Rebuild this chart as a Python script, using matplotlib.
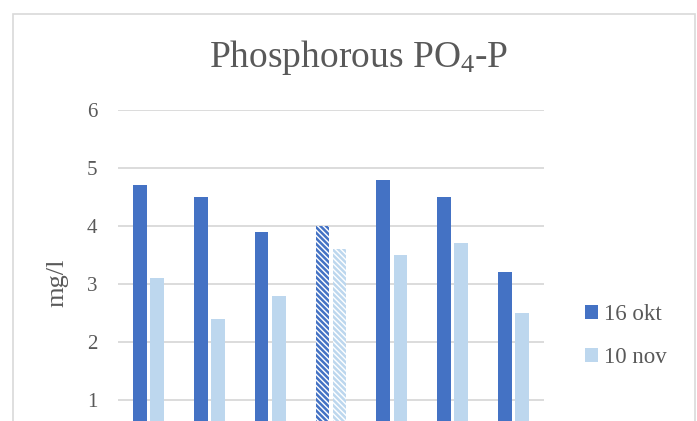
import matplotlib
matplotlib.use("Agg")
import matplotlib.pyplot as plt
from matplotlib.patches import Patch, Rectangle
import numpy as np

# ---- data ----
categories = ["1", "2", "3", "4", "5", "6", "7"]
okt16 = [4.7, 4.5, 3.9, 4.0, 4.8, 4.5, 3.2]
nov10 = [3.1, 2.4, 2.8, 3.6, 3.5, 3.7, 2.5]
hatched_index = 3
series_names = ["16 okt", "10 nov"]
yticks = [1, 2, 3, 4, 5, 6]
title = "Phosphorous PO$_4$-P"
ylabel = "mg/l"

DARK = "#4472C4"
LIGHT = "#BDD7EE"
TEXT = "#595959"
GRID = "#D9D9D9"

plt.rcParams["font.family"] = ["Liberation Serif", "DejaVu Serif"]
plt.rcParams["mathtext.fontset"] = "custom"
plt.rcParams["mathtext.rm"] = "Liberation Serif"
plt.rcParams["mathtext.it"] = "Liberation Serif:italic"
plt.rcParams["mathtext.bf"] = "Liberation Serif:bold"
plt.rcParams["mathtext.default"] = "regular"
plt.rcParams["hatch.linewidth"] = 1.8

W, H = 697, 421
fig = plt.figure(figsize=(W / 100, H / 100), dpi=100)

# chart border
fig.patches.append(Rectangle((13.5 / W, -0.2), (695 - 13.5) / W, 1.2 - 13.5 / H,
                             transform=fig.transFigure, fill=False,
                             edgecolor=GRID, linewidth=1.2, clip_on=False))

ax_left, ax_right = 118, 544
y6_px, y0_px = 110, 458
ax = fig.add_axes([ax_left / W, 1 - y0_px / H, (ax_right - ax_left) / W, (y0_px - y6_px) / H])

x = np.arange(len(categories))
width = 0.225
off = 0.14
hatch = "\\" * 6
for i in range(len(categories)):
    if i == hatched_index:
        ax.bar(x[i] - off, okt16[i], width, facecolor="white", edgecolor=DARK,
               linewidth=0, hatch=hatch, zorder=3)
        ax.bar(x[i] + off, nov10[i], width, facecolor="white", edgecolor=LIGHT,
               linewidth=0, hatch=hatch, zorder=3)
    else:
        ax.bar(x[i] - off, okt16[i], width, color=DARK, linewidth=0, zorder=3)
        ax.bar(x[i] + off, nov10[i], width, color=LIGHT, linewidth=0, zorder=3)

ax.set_xlim(-0.5, len(categories) - 0.5)
ax.set_ylim(0, 6)
ax.set_yticks(yticks)
ax.set_yticklabels([str(t) for t in yticks])
ax.set_xticks([])
for s in ax.spines.values():
    s.set_visible(False)
ax.yaxis.grid(True, color=GRID, linewidth=1.3, zorder=0)
ax.set_axisbelow(True)
ax.tick_params(axis="y", length=0, pad=15, labelsize=15, labelcolor=TEXT)

fig.text(57.5 / W, 1 - 283 / H, ylabel, rotation=90, ha="center", va="center",
         fontsize=19, color=TEXT)

fig.text(359 / W, 1 - 67 / H, title, ha="center", va="baseline",
         fontsize=27, color=TEXT)

handles = [Patch(facecolor=DARK, edgecolor="none"), Patch(facecolor=LIGHT, edgecolor="none")]
fig.legend(handles, series_names, loc="center left",
           bbox_to_anchor=(585 / W, 1 - 336 / H), bbox_transform=fig.transFigure,
           frameon=False, fontsize=16.5, handlelength=0.55, handleheight=0.55,
           handletextpad=0.27, labelspacing=0.95, borderpad=0, borderaxespad=0,
           labelcolor=TEXT)

fig.savefig("out.png", dpi=100)
